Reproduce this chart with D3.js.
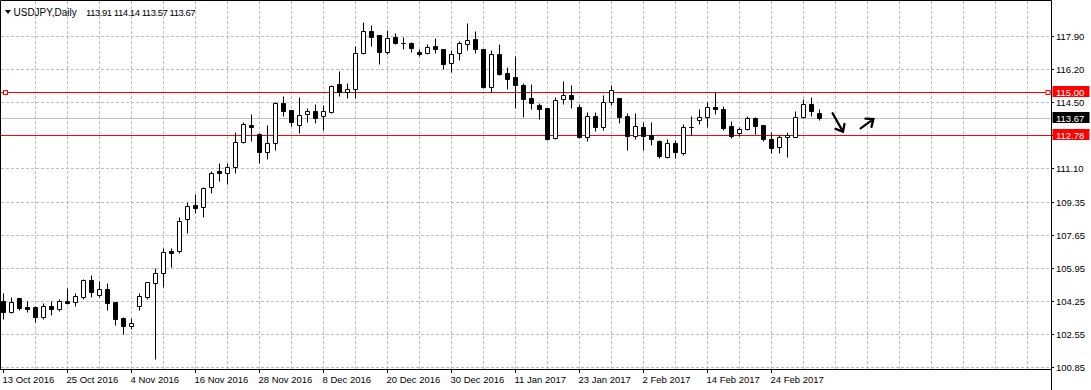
<!DOCTYPE html>
<html>
<head>
<meta charset="utf-8">
<script src="https://cdn.jsdelivr.net/npm/d3@7"></script>
<style>
  body { margin: 0; background: #fff; }
  svg { display: block; font-family: "Liberation Sans", Arial, sans-serif; }
</style>
</head>
<body>
<div id="chart"></div>
<script>
// USDJPY daily bars, 13 Oct 2016 .. 1 Mar 2017
const opens = [
  104.24, 103.69, 104.38, 103.93, 103.93, 103.45, 103.97, 103.85, 104.24, 104.21,
  104.46, 105.31, 104.57, 104.85, 104.19, 103.35, 102.97, 104.00, 104.47, 105.16,
  105.67, 106.82, 106.82, 108.45, 109.18, 109.07, 110.10, 110.94, 110.83, 111.13,
  112.45, 113.31, 112.84, 111.91, 112.37, 114.43, 114.07, 113.31, 113.87, 114.02,
  113.76, 114.00, 115.41, 115.00, 115.16, 117.01, 118.16, 117.94, 117.06, 117.84,
  117.53, 117.53, 117.06, 117.04, 117.37, 117.23, 116.50, 117.01, 117.47, 117.75,
  117.23, 115.29, 116.96, 115.98, 115.79, 115.38, 114.71, 114.35, 114.18, 112.63,
  114.64, 114.85, 114.23, 112.68, 113.76, 113.23, 114.52, 114.69, 113.76, 112.76,
  113.20, 112.80, 112.49, 111.68, 112.37, 111.89, 113.23, 113.56, 113.71, 114.23,
  114.12, 113.25, 112.89, 113.09, 113.66, 113.31, 112.58, 112.17, 112.68, 112.71,
  113.71, 114.40, 113.91
];
const highs = [
  104.64, 104.46, 104.40, 104.24, 103.97, 104.14, 104.24, 104.33, 104.90, 104.64,
  105.36, 105.58, 105.27, 105.17, 104.19, 103.45, 103.35, 104.64, 105.24, 105.93,
  106.96, 106.96, 108.56, 109.33, 109.76, 110.13, 110.94, 111.37, 111.37, 112.94,
  113.48, 113.88, 112.89, 113.31, 114.52, 114.81, 114.10, 114.76, 114.18, 114.38,
  114.35, 115.38, 116.10, 115.46, 117.39, 118.64, 118.47, 117.96, 118.21, 118.04,
  117.84, 117.58, 117.22, 117.50, 117.78, 117.25, 117.18, 117.64, 118.56, 118.16,
  117.25, 117.18, 117.47, 116.29, 116.87, 115.46, 115.43, 114.43, 114.20, 114.77,
  115.58, 115.38, 114.38, 113.97, 113.97, 114.86, 115.38, 114.72, 113.92, 113.92,
  113.45, 113.45, 112.54, 112.59, 112.54, 113.35, 113.79, 114.14, 114.52, 115.00,
  114.29, 113.52, 113.23, 113.78, 113.74, 113.33, 112.97, 112.80, 112.94, 114.04,
  114.64, 114.74, 114.14
];
const lows = [
  103.32, 103.64, 103.78, 103.69, 103.18, 103.33, 103.54, 103.74, 104.12, 104.00,
  104.33, 104.46, 104.46, 103.78, 103.02, 102.56, 102.81, 103.78, 104.33, 101.24,
  104.98, 106.01, 106.73, 107.76, 108.76, 108.56, 109.79, 110.44, 110.26, 110.86,
  112.37, 112.51, 111.34, 111.56, 112.03, 113.79, 113.28, 112.89, 113.48, 113.40,
  113.06, 113.92, 114.83, 114.69, 114.72, 116.96, 117.40, 116.47, 116.96, 117.49,
  117.22, 117.09, 116.89, 116.97, 117.01, 116.19, 116.03, 116.67, 117.18, 117.04,
  115.21, 115.03, 115.89, 115.17, 114.21, 113.74, 114.12, 113.61, 112.54, 112.59,
  114.38, 114.18, 112.66, 112.51, 113.01, 113.06, 114.35, 113.43, 112.03, 112.59,
  112.03, 112.28, 111.60, 111.60, 111.60, 111.77, 112.80, 113.35, 113.23, 113.87,
  113.06, 112.63, 112.76, 113.06, 112.85, 112.51, 111.89, 111.89, 111.68, 112.70,
  113.66, 113.79, 113.57
];
const closes = [
  103.69, 104.18, 103.90, 103.85, 103.45, 103.97, 103.85, 104.24, 104.16, 104.49,
  105.31, 104.72, 104.85, 104.16, 103.32, 102.97, 103.14, 104.49, 105.21, 105.67,
  106.78, 106.70, 108.38, 109.16, 109.05, 110.08, 110.86, 110.83, 111.13, 112.45,
  113.35, 113.20, 111.91, 112.37, 114.43, 114.04, 113.48, 113.83, 114.02, 113.69,
  114.04, 115.33, 115.00, 115.16, 117.01, 118.16, 117.87, 117.06, 117.78, 117.53,
  117.52, 117.27, 116.99, 117.35, 117.22, 116.47, 116.96, 117.53, 117.68, 117.22,
  115.29, 116.96, 115.96, 115.70, 115.36, 114.67, 114.46, 114.15, 112.58, 114.59,
  114.85, 114.64, 112.68, 113.76, 113.23, 114.48, 115.10, 113.74, 112.76, 113.25,
  112.76, 112.61, 111.73, 112.37, 111.91, 113.23, 113.19, 113.71, 114.23, 114.12,
  113.18, 112.76, 113.09, 113.66, 113.28, 112.58, 112.11, 112.68, 112.80, 113.71,
  114.40, 114.05, 113.67
];

// one date label every 8 bars
const dateLabels = [
  "13 Oct 2016", "25 Oct 2016", "4 Nov 2016", "16 Nov 2016", "28 Nov 2016",
  "8 Dec 2016", "20 Dec 2016", "30 Dec 2016", "11 Jan 2017", "23 Jan 2017",
  "2 Feb 2017", "14 Feb 2017", "24 Feb 2017"
];
const priceTicks = [117.90, 116.20, 114.50, 112.80, 111.10, 109.35, 107.65, 105.95, 104.25, 102.55, 100.85];

// horizontal levels: resistance, support, last bid
const levels = [115.00, 112.78];
const lastPrice = 113.67;
const header = ["USDJPY,Daily", "113.91 114.14 113.57 113.67"];

// hand-drawn arrows: [bar, price] pairs
const arrows = [
  { from: [103.7, 113.92], to: [105.0, 112.97] },
  { from: [107.2, 113.14], to: [108.8, 113.62] }
];

const width = 1091, height = 390;
const plotRight = 1051.5, plotBottom = 369.5;

const svg = d3.select("#chart").append("svg")
    .attr("width", width)
    .attr("height", height);

const x = d3.scaleLinear().domain([0, 102]).range([3, 819]);
const y = d3.scaleLinear().domain([100.85, 117.90]).range([367, 36])
    .interpolate(d3.interpolateRound);
const yf = y.copy().interpolate(d3.interpolateNumber);

const px = i => x(i) + 0.5;
const py = v => y(v) + 0.5;

// grid
const gridBars = d3.range(4, 200, 4).filter(i => px(i) < plotRight - 6);
svg.append("g")
    .selectAll("line")
    .data(gridBars)
    .join("line")
    .attr("x1", d => px(d)).attr("x2", d => px(d))
    .attr("y1", 1).attr("y2", plotBottom)
    .attr("stroke", "#c0c0c0")
    .attr("stroke-dasharray", "3,2");

svg.append("g")
    .selectAll("line")
    .data(priceTicks)
    .join("line")
    .attr("x1", 1).attr("x2", plotRight)
    .attr("y1", d => py(d)).attr("y2", d => py(d))
    .attr("stroke", "#c0c0c0")
    .attr("stroke-dasharray", "3,2");

// level lines
svg.append("line")
    .attr("x1", 1).attr("x2", plotRight)
    .attr("y1", py(lastPrice)).attr("y2", py(lastPrice))
    .attr("stroke", "#c0c0c0");

svg.append("g")
    .selectAll("line")
    .data(levels)
    .join("line")
    .attr("x1", 1).attr("x2", plotRight)
    .attr("y1", d => py(d)).attr("y2", d => py(d))
    .attr("stroke", "#ff0000");

[4, plotRight - 5].forEach(sx => {
  svg.append("rect")
      .attr("x", sx - 0.5).attr("y", py(levels[0]) - 2)
      .attr("width", 4).attr("height", 4)
      .attr("fill", "#fff")
      .attr("stroke", "#ff0000");
});

// candles
const bars = opens.map((o, i) => ({ i, o, h: highs[i], l: lows[i], c: closes[i] }));

const candles = svg.append("g").attr("class", "candles");

candles.selectAll("line")
    .data(bars)
    .join("line")
    .attr("x1", d => px(d.i)).attr("x2", d => px(d.i))
    .attr("y1", d => py(d.h)).attr("y2", d => py(d.l))
    .attr("stroke", "#000");

candles.selectAll("path")
    .data(bars)
    .join("path")
    .attr("d", d => {
      const cx = px(d.i);
      const top = py(Math.max(d.o, d.c));
      const bot = py(Math.min(d.o, d.c));
      return `M${cx - 2},${top}H${cx + 2}V${bot}H${cx - 2}Z`;
    })
    .attr("fill", d => d.c >= d.o ? "#fff" : "#000")
    .attr("stroke", "#000");

// arrows
const arrowG = svg.append("g")
    .attr("stroke", "#000")
    .attr("stroke-width", 2.3)
    .attr("stroke-linecap", "round")
    .attr("fill", "none");

arrows.forEach(a => {
  const x1 = x(a.from[0]), y1 = yf(a.from[1]);
  const x2 = x(a.to[0]), y2 = yf(a.to[1]);
  const ang = Math.atan2(y2 - y1, x2 - x1);
  const len = 8, spread = Math.PI / 4.5;
  const hx1 = x2 - len * Math.cos(ang - spread), hy1 = y2 - len * Math.sin(ang - spread);
  const hx2 = x2 - len * Math.cos(ang + spread), hy2 = y2 - len * Math.sin(ang + spread);
  arrowG.append("path")
      .attr("d", `M${x1},${y1}L${x2},${y2}M${hx1},${hy1}L${x2},${y2}L${hx2},${hy2}`);
});

// frame
svg.append("path")
    .attr("d", `M0.5,${plotBottom}V0.5H${plotRight}V${height}M0,${plotBottom}H${plotRight}`)
    .attr("fill", "none")
    .attr("stroke", "#000");

// axes
const xAxis = d3.axisBottom(x)
    .tickValues(dateLabels.map((_, k) => k * 8))
    .tickFormat(d => dateLabels[d / 8])
    .tickSize(4)
    .tickPadding(3);

const gx = svg.append("g")
    .attr("transform", `translate(0,${plotBottom - 0.5})`)
    .call(xAxis);
gx.select(".domain").remove();
gx.selectAll("text")
    .attr("text-anchor", "start")
    .attr("x", -1)
    .style("font-size", "9.5px")
    .style("font-family", "'Liberation Sans', Arial, sans-serif")
    .attr("fill", "#000");

const yAxis = d3.axisRight(y)
    .tickValues(priceTicks)
    .tickFormat(d3.format(".2f"))
    .tickSize(3)
    .tickPadding(2);

const gy = svg.append("g")
    .attr("transform", `translate(${plotRight - 0.5},0)`)
    .call(yAxis);
gy.select(".domain").remove();
gy.selectAll("text")
    .style("font-size", "9.5px")
    .style("font-family", "'Liberation Sans', Arial, sans-serif")
    .attr("fill", "#000");

// price boxes on the right scale
const boxes = [
  { v: levels[0], fill: "#ff0000" },
  { v: lastPrice, fill: "#000" },
  { v: levels[1], fill: "#ff0000" }
];
const boxG = svg.append("g").selectAll("g")
    .data(boxes)
    .join("g");
boxG.append("rect")
    .attr("x", plotRight + 1).attr("y", d => y(d.v) - 6)
    .attr("width", 37).attr("height", 11)
    .attr("fill", d => d.fill);
boxG.append("text")
    .attr("x", plotRight + 4.5).attr("y", d => y(d.v) + 3.5)
    .attr("fill", "#fff")
    .style("font-size", "9.5px")
    .text(d => d.v.toFixed(2));

// header
svg.append("path")
    .attr("d", "M5,10H11L8,14Z")
    .attr("fill", "#000");
const title = svg.append("text")
    .attr("y", 15.5)
    .attr("fill", "#000");
title.append("tspan").attr("x", 13.5).style("font-size", "10px").text(header[0]);
title.append("tspan").attr("x", 86)
    .style("font-size", "9.5px")
    .style("letter-spacing", "-0.45px")
    .text(header[1]);
</script>
</body>
</html>
